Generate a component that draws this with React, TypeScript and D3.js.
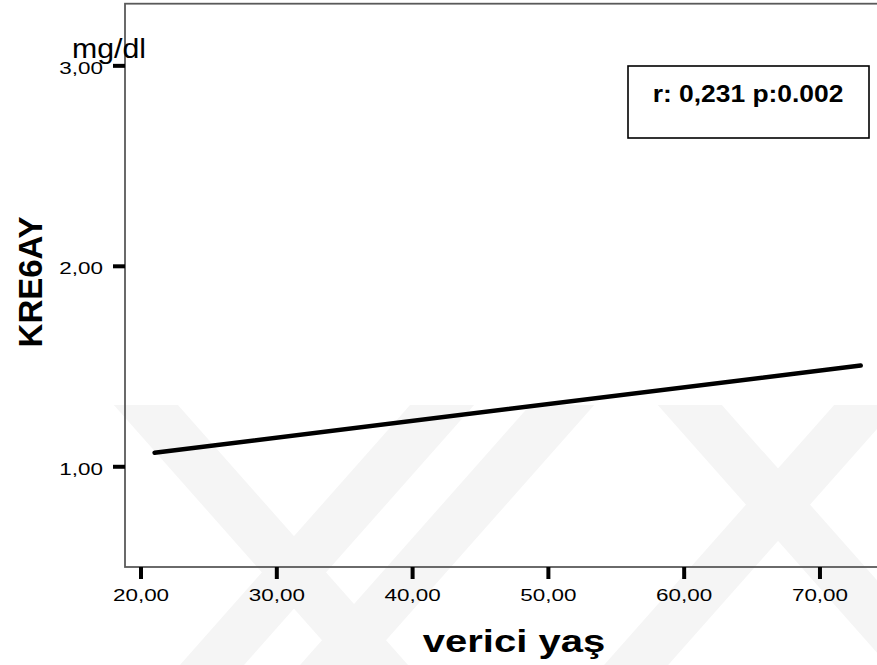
import React from "react";
import * as d3 from "d3";

const xTicks = [20, 30, 40, 50, 60, 70];
const xTickLabels = ["20,00", "30,00", "40,00", "50,00", "60,00", "70,00"];
const yTicks = [1, 2, 3];
const yTickLabels = ["1,00", "2,00", "3,00"];
const fitX = [21, 73];
const fitY = [1.07, 1.505];
const statText = "r: 0,231 p:0.002";
const xTitle = "verici yaş";
const yTitle = "KRE6AY";
const unitText = "mg/dl";

// watermark bands: [x, y, direction] (+1 = "\" , -1 = "/")
const wmBands: [number, number, number][] = [
  [168, 430, 1],
  [556, 412, -1],
  [696, 412, 1],
  [860, 412, -1],
  [212, 665, -1],
];

const W = 877;
const H = 665;
const FONT = "'Liberation Sans', Arial, sans-serif";

export default function App() {
  const x = d3.scaleLinear().domain([18.82, 74.2]).range([125, 877]);
  const y = d3.scaleLinear().domain([0.5, 3.31]).range([567, 3.7]);
  const line = d3
    .line<number>()
    .x((_, i) => x(fitX[i]))
    .y((d) => y(d));
  const slope = 1.13;
  return (
    <svg
      width={W}
      height={H}
      style={{ position: "absolute", left: 0, top: 0, background: "#fff" }}
    >
      <defs>
        <clipPath id="wm">
          <rect x={0} y={405} width={W} height={H - 405} />
        </clipPath>
      </defs>
      <g clipPath="url(#wm)">
        {wmBands.map(([bx, by, dir], i) => {
          const dy = 400;
          const dx = (dy / slope) * dir;
          return (
            <line
              key={i}
              x1={bx - dx}
              y1={by - dy}
              x2={bx + dx}
              y2={by + dy}
              stroke="#f5f5f5"
              strokeWidth={48}
            />
          );
        })}
      </g>
      {/* frame */}
      <rect
        x={125}
        y={3.7}
        width={W}
        height={567 - 3.7}
        fill="none"
        stroke="#5a5a5a"
        strokeWidth={1.8}
      />
      {/* y ticks */}
      {yTicks.map((t, i) => (
        <g key={"y" + t}>
          <line x1={113} x2={125} y1={y(t)} y2={y(t)} stroke="#000" strokeWidth={4} />
          <text
            transform={`translate(103,${y(t) + 8}) scale(1.32,1)`}
            textAnchor="end"
            fontFamily={FONT}
            fontSize={17}
            fill="#000"
          >
            {yTickLabels[i]}
          </text>
        </g>
      ))}
      {/* x ticks */}
      {xTicks.map((t, i) => (
        <g key={"x" + t}>
          <line x1={x(t)} x2={x(t)} y1={567} y2={579} stroke="#000" strokeWidth={4} />
          <text
            transform={`translate(${x(t)},601) scale(1.32,1)`}
            textAnchor="middle"
            fontFamily={FONT}
            fontSize={17}
            fill="#000"
          >
            {xTickLabels[i]}
          </text>
        </g>
      ))}
      {/* fit line */}
      <path
        d={line(fitY) || ""}
        fill="none"
        stroke="#000"
        strokeWidth={4.5}
        strokeLinecap="round"
      />
      {/* unit */}
      <text
        transform={`translate(72,58) scale(1.08,1)`}
        fontFamily={FONT}
        fontSize={28}
        fill="#000"
      >
        {unitText}
      </text>
      {/* stats box */}
      <rect x={628} y={66} width={241} height={72} fill="#fff" stroke="#000" strokeWidth={1.6} />
      <text
        transform={`translate(748,102) scale(1.1,1)`}
        textAnchor="middle"
        fontFamily={FONT}
        fontWeight="bold"
        fontSize={24}
        fill="#000"
      >
        {statText}
      </text>
      {/* axis titles */}
      <text
        transform={`translate(514,652) scale(1.25,1)`}
        textAnchor="middle"
        fontFamily={FONT}
        fontWeight="bold"
        fontSize={32}
        fill="#000"
      >
        {xTitle}
      </text>
      <text
        transform={`translate(42,282) rotate(-90)`}
        textAnchor="middle"
        fontFamily={FONT}
        fontWeight="bold"
        fontSize={33}
        fill="#000"
      >
        {yTitle}
      </text>
    </svg>
  );
}
